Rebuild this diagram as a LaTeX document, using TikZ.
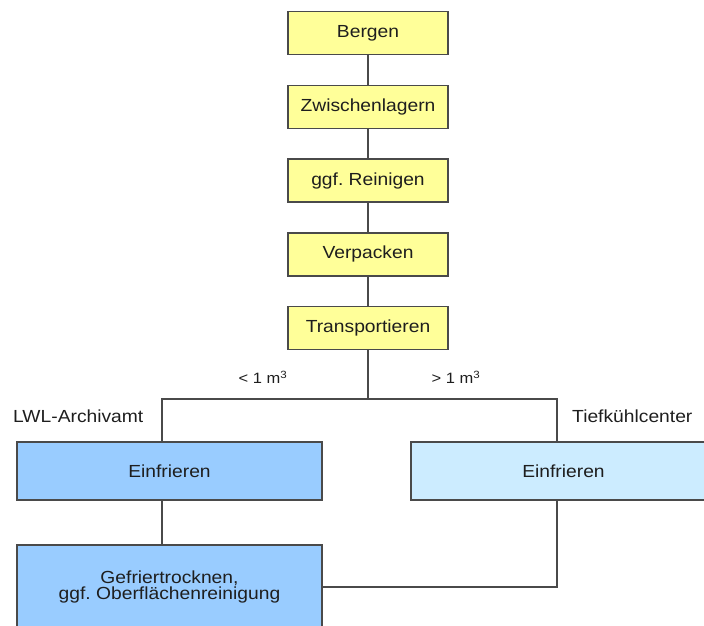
\documentclass[tikz,border=0pt]{standalone}
\usepackage{fontspec}
\setmainfont{Liberation Sans}[FakeStretch=1.1]
\usetikzlibrary{positioning}
\frenchspacing

\definecolor{boxyellow}{HTML}{FFFF99}
\definecolor{boxblue}{HTML}{99CCFF}
\definecolor{boxpale}{HTML}{CCECFF}
\definecolor{framegray}{HTML}{4A4A4A}
\definecolor{inkgray}{HTML}{1E1E1E}

\begin{document}
\begin{tikzpicture}[x=1pt,y=-1pt,
        node distance=29.5pt,
        stepbox/.style={draw=framegray, line width=1.3pt, fill=boxyellow,
            minimum width=160pt, minimum height=43pt, inner sep=0pt,
            text=inkgray, font=\fontsize{17.5}{17.5}\selectfont},
        sitebox/.style={draw=framegray, line width=1.3pt, minimum width=305pt,
            inner sep=0pt, align=center, text=inkgray,
            font=\fontsize{17.5}{16.5}\selectfont},
        conn/.style={draw=framegray, line width=1.2pt},
        lbl/.style={inner sep=0pt, text=inkgray, font=\fontsize{17.5}{17.5}\selectfont},
        vol/.style={inner sep=0pt, text=inkgray, font=\fontsize{15}{15}\selectfont}]
        \useasboundingbox (0,0) rectangle (704,625);
        \clip (0,0) rectangle (704,625);

        \node[stepbox] (bergen) at (368,33) {Bergen};
        \node[stepbox, below=of bergen] (lagern) {Zwischenlagern};
        \node[stepbox, below=of lagern] (reinigen) {ggf. Reinigen};
        \node[stepbox, below=of reinigen] (verpacken) {Verpacken};
        \node[stepbox, below=of verpacken] (transport) {Transportieren};

        \node[sitebox, fill=boxblue, minimum height=58pt] (einl) at (169.5,471) {Einfrieren};
        \node[sitebox, fill=boxpale, minimum height=58pt] (einr) at (563.5,471) {Einfrieren};
        \node[sitebox, fill=boxblue, minimum height=84pt] (gefrier) at (169.5,587)
            {Gefriertrocknen,\\ggf. Oberflächenreinigung};

        \coordinate (lsplit) at (162,399);
        \coordinate (rsplit) at (557,399);

        \draw[conn] (bergen) -- (lagern);
        \draw[conn] (lagern) -- (reinigen);
        \draw[conn] (reinigen) -- (verpacken);
        \draw[conn] (verpacken) -- (transport);
        \draw[conn] (transport) -- (transport |- lsplit);
        \draw[conn] (lsplit |- einl.north) -- (lsplit) -- (rsplit) -- (rsplit |- einr.north);
        \draw[conn] (lsplit |- einl.south) -- (lsplit |- gefrier.north);
        \draw[conn] (rsplit |- einr.south) |- (gefrier.east);

        \node[vol] (small) at (263,377) {< 1 m\textsuperscript{3}};
        \node[vol] (large) at (456,377) {> 1 m\textsuperscript{3}};
        \node[lbl, anchor=west] (archiv) at (13,416) {LWL-Archivamt};
        \node[lbl, anchor=west] (tiefk) at (572,416) {Tiefkühlcenter};
    \end{tikzpicture}
\end{document}
